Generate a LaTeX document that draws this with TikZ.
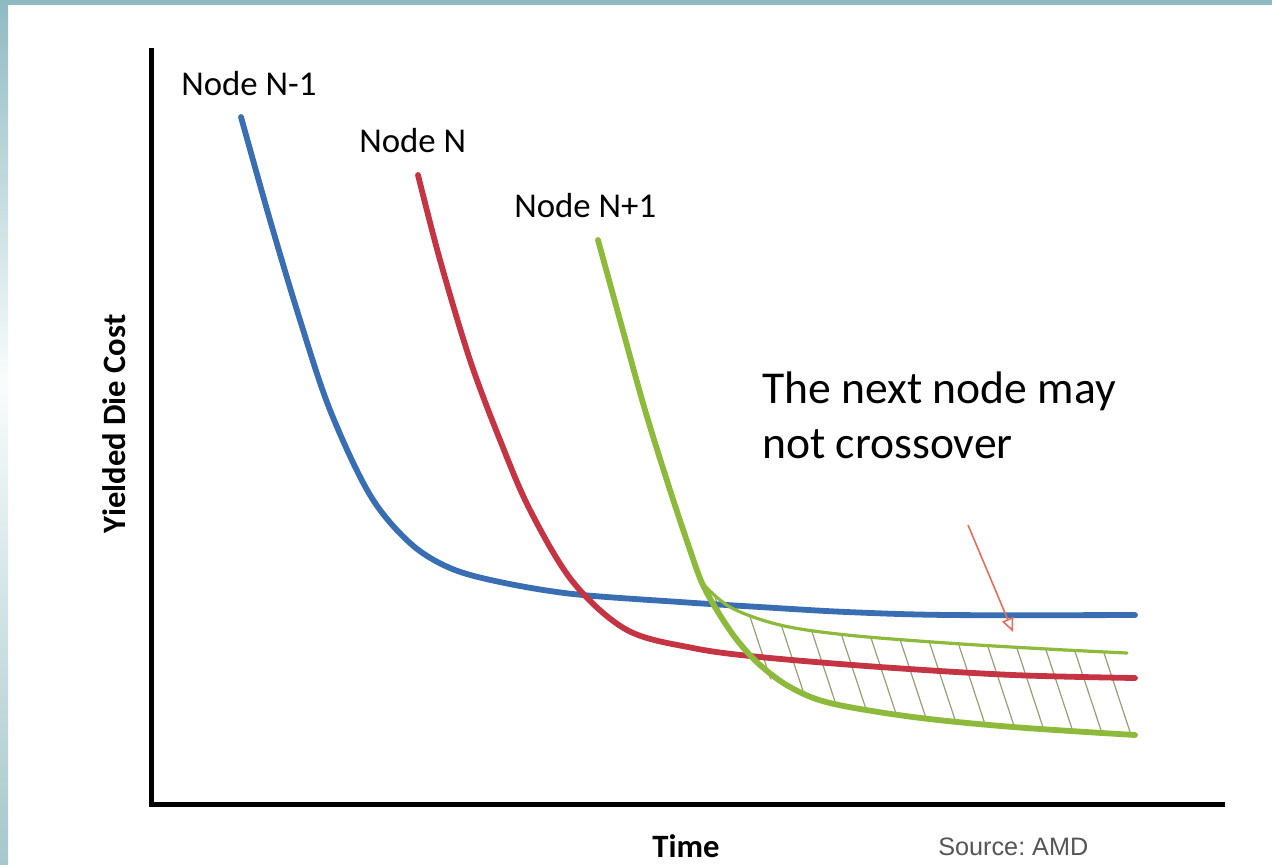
\documentclass[tikz,border=0pt]{standalone}
\usepackage{fontspec}
\setmainfont{Carlito}
\newfontfamily\srcfont{Liberation Sans}
\usetikzlibrary{arrows.meta}

\definecolor{frameteal}{RGB}{143,186,194}
\definecolor{frameteallow}{RGB}{166,199,204}
\definecolor{framelight}{RGB}{250,252,252}
\definecolor{curveblue}{RGB}{58,110,178}
\definecolor{curvered}{RGB}{196,52,66}
\definecolor{curvegreen}{RGB}{141,186,58}
\definecolor{hatchcol}{RGB}{150,160,118}
\definecolor{notecol}{RGB}{228,110,92}
\definecolor{srcgray}{RGB}{85,85,85}

\tikzset{
  axis/.style={line width=2.5pt, black, line cap=rect, line join=miter},
  curve/.style={line width=2.9pt, line cap=round, smooth, tension=0.55},
  thincurve/.style={line width=1.6pt, line cap=round, smooth, tension=0.55},
  hatchline/.style={line width=0.6pt, hatchcol},
  nodelabel/.style={font=\fontsize{17.4}{20}\selectfont, anchor=base west, inner sep=0pt},
  axislabel/.style={font=\fontsize{16.3}{19}\selectfont\bfseries, inner sep=0pt},
  notetext/.style={font=\fontsize{22.8}{27.5}\selectfont, anchor=base west, inner sep=0pt, align=left},
}

\begin{document}
\frenchspacing
\begin{tikzpicture}[x=0.5pt, y=-0.5pt]
\useasboundingbox (0,0) rectangle (1272,864);
\fill[white] (0,0) rectangle (1272,864);

% slide frame: shaded strip on the left, band on top
\shade[top color=frameteal, bottom color=framelight] (0,0) rectangle (8,380);
\shade[top color=framelight, bottom color=frameteallow] (0,380) rectangle (8,864);
\fill[frameteal] (0,0) rectangle (1272,5);

% axes
\draw[axis] (151,50) -- (151,804) -- (1222,804);

% hatched band between the two possible N+1 curves
\begin{scope}
  \clip plot[smooth] coordinates {(702,583) (730,607) (780,625) (847,635) (947,643) (1047,649) (1127,653)}
        -- (1136,736)
        -- plot[smooth] coordinates {(1135,735) (1013,727) (913,717) (830,703) (780,687) (737,640) (702,583)}
        -- cycle;
  \foreach \k in {-5,...,11}
    \draw[hatchline] ({842+28.5*\k-45},500) -- ({842+28.5*\k+54},800);
\end{scope}

% node N-1
\draw[curve, curveblue] plot coordinates {(241,117) (270,220) (300,320) (330,410) (370,495) (410,543) (450,568) (500,582) (573,594) (680,602) (760,607) (847,612) (950,615) (1135,615)};

% node N
\draw[curve, curvered] plot coordinates {(418,175) (440,260) (470,360) (500,440) (530,510) (573,582) (627,630) (693,648) (760,657) (880,667) (1013,675) (1135,678)};

% node N+1, optimistic branch
\draw[thincurve, curvegreen] plot coordinates {(700,581) (730,607) (780,625) (847,635) (947,643) (1047,649) (1127,653)};

% node N+1
\draw[curve, curvegreen] plot coordinates {(598,240) (620,320) (645,410) (670,490) (690,550) (702,583) (718,612) (737,640) (760,665) (790,687) (830,703) (913,717) (1013,727) (1135,735)};

% labels
\node[nodelabel] (lblA) at (181,95) {Node N-1};
\node[nodelabel] (lblB) at (359,152) {Node N};
\node[nodelabel] (lblC) at (514,217) {Node N+1};

\node[notetext] (note) at (762,458) {The next node may\\not crossover};
\coordinate (notetip) at (1013,632);
\draw[notecol, line width=0.8pt, -{Triangle[open, length=7pt, width=6pt]}] (968,525) -- (notetip);

\node[axislabel, rotate=90, anchor=base] (ylab) at (125,424) {Yielded Die Cost};
\node[axislabel, anchor=base west] (xlab) at (652,857) {Time};
\node[font=\srcfont\fontsize{12.6}{15}\selectfont, text=srcgray, anchor=base west, inner sep=0pt] (src) at (938,855) {Source: AMD};
\end{tikzpicture}
\end{document}
